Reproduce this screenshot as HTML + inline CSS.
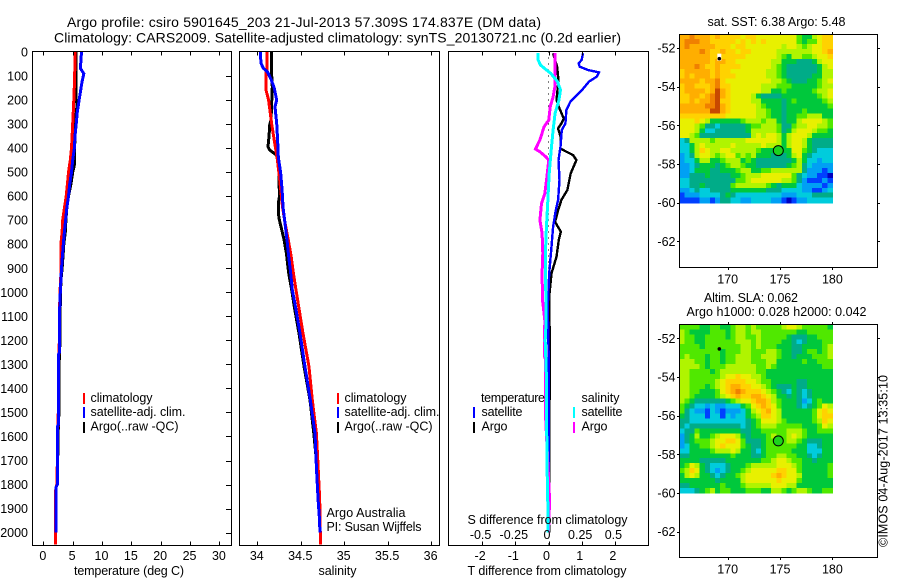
<!DOCTYPE html>
<html>
<head>
<meta charset="utf-8">
<title>Argo profile chart</title>
<style>
html,body{margin:0;padding:0;background:#fff;}
svg{display:block;}
text{font-family:"Liberation Sans",sans-serif;font-size:12.5px;fill:#000;}
.t{font-size:14px;}
</style>
</head>
<body>
<svg id="chart" xmlns="http://www.w3.org/2000/svg" width="900" height="580" viewBox="0 0 900 580">
<rect x="0" y="0" width="900" height="580" fill="#fff"/>
<text class="t" x="67" y="27" textLength="474" lengthAdjust="spacing">Argo profile: csiro 5901645_203 21-Jul-2013 57.309S 174.837E (DM data)</text>
<text class="t" x="54" y="42.5" textLength="567" lengthAdjust="spacing">Climatology: CARS2009. Satellite-adjusted climatology: synTS_20130721.nc (0.2d earlier)</text>
<g id="temp-panel"></g>
<g id="sal-panel"></g>
<g id="diff-panel"></g>
<g id="sst-map"></g>
<g id="sla-map"></g>

<text x="74" y="575" textLength="110" lengthAdjust="spacing">temperature (deg C)</text>
<text x="318.5" y="575" textLength="38" lengthAdjust="spacing">salinity</text>
<text x="467.5" y="575" textLength="159" lengthAdjust="spacing">T difference from climatology</text>
<text x="467.5" y="524" textLength="160" lengthAdjust="spacing">S difference from climatology</text>

<g>
<rect x="83" y="393" width="2" height="11" fill="#ff0000"/>
<rect x="83" y="407" width="2" height="11" fill="#0000ff"/>
<rect x="83" y="422" width="2" height="11" fill="#000"/>
<text x="90.5" y="402" textLength="62" lengthAdjust="spacing">climatology</text>
<text x="90.5" y="416" textLength="95" lengthAdjust="spacing">satellite-adj. clim.</text>
<text x="90.5" y="430.5" textLength="88" lengthAdjust="spacing">Argo(..raw -QC)</text>
</g>
<g>
<rect x="337" y="393" width="2" height="11" fill="#ff0000"/>
<rect x="337" y="407" width="2" height="11" fill="#0000ff"/>
<rect x="337" y="422" width="2" height="11" fill="#000"/>
<text x="344.5" y="402" textLength="62" lengthAdjust="spacing">climatology</text>
<text x="344.5" y="416" textLength="95" lengthAdjust="spacing">satellite-adj. clim.</text>
<text x="344.5" y="430.5" textLength="88" lengthAdjust="spacing">Argo(..raw -QC)</text>
<text x="326.5" y="517" textLength="79" lengthAdjust="spacing">Argo Australia</text>
<text x="326.5" y="531" textLength="95" lengthAdjust="spacing">PI: Susan Wijffels</text>
</g>
<g>
<text x="481" y="402" textLength="64" lengthAdjust="spacing">temperature</text>
<text x="481.5" y="416" textLength="41" lengthAdjust="spacing">satellite</text>
<text x="481.5" y="430.5" textLength="26" lengthAdjust="spacing">Argo</text>
<rect x="473" y="407" width="2" height="11" fill="#0000ff"/>
<rect x="473" y="422" width="2" height="11" fill="#000"/>
<text x="581.5" y="402" textLength="38" lengthAdjust="spacing">salinity</text>
<text x="581.5" y="416" textLength="41" lengthAdjust="spacing">satellite</text>
<text x="581.5" y="430.5" textLength="26" lengthAdjust="spacing">Argo</text>
<rect x="573" y="407" width="2" height="11" fill="#00ffff"/>
<rect x="573" y="422" width="2" height="11" fill="#ff00ff"/>
</g>

<text x="707.5" y="26" textLength="138" lengthAdjust="spacing">sat. SST: 6.38 Argo: 5.48</text>
<text x="704" y="302" textLength="94" lengthAdjust="spacing">Altim. SLA: 0.062</text>
<text x="686.5" y="316" textLength="180" lengthAdjust="spacing">Argo h1000: 0.028 h2000: 0.042</text>
<text transform="translate(887.5,547) rotate(-90)" x="0" y="0" textLength="172" lengthAdjust="spacing">©IMOS 04-Aug-2017 13:35:10</text>
</svg>

<script>
// ---- Profile data ----
const tempClimDepth = [0,100,200,300,400,450,500,550,600,650,700,750,800,900,1000,1100,1200,1300,1400,1500,1600,1700,1800,1830,1900,2000,2050];
const tempClim = [5.4,5.35,5.2,5.0,4.8,4.6,4.3,4.1,3.9,3.6,3.3,3.2,3.0,3.05,2.85,2.75,2.75,2.55,2.55,2.55,2.4,2.4,2.3,2.05,2.05,2.05,2.05];
const tempSatDepth = [0,50,70,90,125,200,250,300,350,400,450,500,550,600,650,700,750,800,900,1000,1100,1250,1260,1550,1560,1800,1810,2000];
const tempSat = [6.5,6.37,6.37,6.9,6.6,6.1,5.8,5.6,5.4,5.3,5.0,4.8,4.5,4.3,4.0,3.8,3.6,3.4,3.1,2.9,2.75,2.75,2.55,2.55,2.4,2.4,2.2,2.2];
const tempArgoDepth = [0,100,200,220,300,400,450,470,500,550,600,650,700,750,800,850,900,950,1000,1100,1200,1300,1400,1500,1600,1700,1730];
const tempArgo = [5.57,5.57,5.6,5.75,5.4,5.35,5.3,5.3,5.0,4.7,4.3,4.0,3.85,3.75,3.5,3.35,3.2,3.0,2.95,2.85,2.85,2.7,2.65,2.65,2.5,2.45,2.45];

const salClimDepth = [0,75,80,158,200,255,297,366,436,505,644,713,782,852,921,990,1060,1171,1310,1448,1587,1726,1864,2003,2050];
const salClim = [34.11,34.11,34.10,34.10,34.13,34.15,34.165,34.195,34.227,34.25,34.29,34.32,34.357,34.39,34.415,34.445,34.476,34.526,34.595,34.633,34.68,34.70,34.718,34.725,34.73];
const salSatDepth = [0,47,68,82,117,151,200,228,297,366,436,505,574,644,713,782,852,921,990,1060,1171,1310,1448,1587,1726,1864,1934,2000];
const salSat = [34.035,34.043,34.07,34.116,34.162,34.196,34.223,34.204,34.223,34.234,34.242,34.269,34.285,34.296,34.319,34.342,34.361,34.384,34.403,34.44,34.491,34.549,34.61,34.664,34.68,34.70,34.714,34.722];
const salArgoDepth = [0,89,145,283,304,352,394,408,429,450,505,602,630,671,699,727,782,838,921,990,1060,1171,1310,1448,1587,1726,1864,2000];
const salArgo = [34.165,34.165,34.173,34.158,34.143,34.135,34.123,34.143,34.22,34.239,34.25,34.254,34.242,34.242,34.254,34.273,34.308,34.335,34.361,34.396,34.426,34.48,34.538,34.607,34.65,34.687,34.714,34.722];

const diffArgoTDepth = [5,61,117,200,228,277,297,318,352,401,408,429,450,505,574,616,658,707,748,782,852,921,1005,1116,1250,1500,2000];
const diffArgoT = [.14,.26,.30,.24,.31,.46,.39,.29,.36,.36,.44,.74,.84,.67,.57,.39,.29,.20,.37,.31,.24,.09,.03,.03,.04,.03,.02];
const diffSatTDepth = [5,33,47,61,75,85,103,123,158,207,241,297,325,394,450,533,616,658,727,810,921,1060,1300,2000];
const diffSatT = [1.04,1.0,.91,.94,1.19,1.52,1.45,1.22,1.01,.66,.54,.51,.40,.36,.30,.33,.29,.22,.14,.09,.02,-.02,.01,.01];
const diffSatSDepth = [5,33,54,75,89,123,158,200,255,325,394,505,644,782,921,1116,1200,1350,1700,1850,2000];
const diffSatS = [-.078,-.078,-.06,-.015,.0175,.068,.09,.078,.05,.035,.0225,.005,-.0075,-.02,-.0225,-.0175,-.025,-.016,-.012,-.006,-.003];
const diffArgoSDepth = [5,145,187,228,283,311,366,404,415,436,450,533,589,630,700,755,838,921,1032,1116,1268,1280,1520,1864,2000];
const diffArgoS = [.048,.048,.035,.0125,.0025,-.033,-.065,-.098,-.065,-.02,.0025,-.015,-.0275,-.053,-.065,-.048,-.043,-.048,-.045,-.0275,-.03,-.022,-.022,.008,0];

// ---- Tick labels ----
const depthTicks = [0,100,200,300,400,500,600,700,800,900,1000,1100,1200,1300,1400,1500,1600,1700,1800,1900,2000];
const tempTicks = [0,5,10,15,20,25,30];
const salTicks = [34,34.5,35,35.5,36];
const salTickLabels = ['34','34.5','35','35.5','36'];
const diffTTicks = [-2,-1,0,1,2];
const diffTTickLabels = ['-2','-1','0','1','2'];
const diffSTicks = [-0.5,-0.25,0,0.25,0.5];
const diffSTickLabels = ['-0.5','-0.25','0','0.25','0.5'];
const lonTicks = [170,175,180];
const latTicks = [-52,-54,-56,-58,-60,-62];

// ---- Map colour scale (level 0..12) ----
const levelColors = ['#0000c0','#0040ff','#00a0f4','#00ccdc','#00ac88','#00c83c','#50e800','#b0f400','#e8f000','#ffd200','#ffae00','#f08000','#c84800'];

// ---- Float track / profile position ----
const profileLon = 174.837;
const profileLat = -57.309;
const priorLon = 169.2;
const priorLat = -52.55;

// ---- Map values, north to south, west to east ----
const sstGrid = [
[10,10,11,10,10,10,9,10,9,9,9,9,8,9,9,8,8,8,8,8,8,8,8,6,5,5,7,8,9,9],
[10,11,11,11,10,10,9,9,9,9,9,8,9,8,9,8,9,8,8,8,8,8,8,6,5,6,6,8,9,9],
[10,11,10,10,10,10,10,9,9,9,8,9,9,8,8,8,8,8,8,8,7,8,8,7,6,7,8,8,9,9],
[10,10,10,10,11,10,9,9,10,9,9,8,9,9,8,8,8,8,8,7,7,7,7,7,7,7,8,8,9,10],
[10,10,10,10,10,10,9,9,9,9,9,9,9,8,8,8,8,8,8,7,6,5,7,7,6,6,7,8,8,9],
[10,10,10,10,10,10,9,10,10,9,9,8,8,8,8,8,8,8,7,7,5,5,5,4,4,4,5,7,8,8],
[10,10,10,11,10,9,9,10,9,9,9,9,8,8,8,8,8,8,7,6,5,4,4,4,4,4,4,5,7,8],
[9,10,10,10,10,10,9,10,9,9,8,8,8,8,8,8,8,7,7,6,5,4,4,4,4,4,4,5,7,7],
[9,10,9,10,10,10,9,10,9,9,9,8,8,8,8,8,8,7,7,6,5,4,4,4,4,4,5,5,7,7],
[10,10,10,10,9,10,10,11,9,8,8,8,8,8,8,8,8,8,7,7,6,5,4,4,4,5,5,6,7,8],
[9,10,10,9,9,9,10,11,9,9,8,8,8,8,8,8,7,7,7,6,6,6,5,5,5,5,5,6,7,7],
[9,10,10,10,10,9,10,12,10,9,8,8,8,8,8,8,7,7,5,5,6,5,5,5,5,5,6,7,7,8],
[9,9,10,10,9,10,11,12,10,9,8,8,8,8,7,5,4,4,4,4,5,5,5,5,5,5,5,6,7,8],
[9,9,10,9,10,10,11,12,9,9,8,8,8,8,7,7,5,5,5,5,4,5,6,5,5,5,5,5,6,7],
[10,10,10,10,10,11,11,12,10,9,8,8,8,8,8,7,6,5,5,5,4,5,5,5,5,5,5,5,5,6],
[10,10,10,10,10,10,12,12,10,9,8,8,8,8,8,7,7,6,5,5,4,5,5,5,6,5,5,5,5,5],
[9,9,9,9,9,9,9,9,9,8,8,8,8,8,8,7,7,6,5,5,4,5,5,6,6,7,7,7,5,5],
[8,8,8,9,8,7,5,5,5,5,5,5,6,7,7,7,6,7,7,5,4,5,5,7,8,8,8,8,7,6],
[8,8,8,7,6,4,4,3,4,4,4,4,4,5,6,6,7,7,7,6,4,4,6,7,7,8,8,7,7,6],
[8,8,8,7,5,3,3,4,4,4,4,4,4,5,7,7,7,7,7,6,4,5,7,8,8,8,7,6,6,5],
[8,8,7,6,4,4,4,4,4,4,4,4,4,4,7,8,7,8,8,7,5,7,8,8,8,7,5,5,5,5],
[3,4,7,7,7,7,6,7,7,7,7,7,7,8,8,8,8,8,8,7,5,7,8,8,7,5,4,4,4,4],
[3,3,5,7,8,7,7,7,7,7,8,7,7,7,7,7,8,7,7,7,5,7,8,8,7,5,4,4,4,4],
[3,3,5,7,9,8,7,7,8,8,7,7,7,7,7,6,5,5,5,6,5,5,8,8,6,5,4,3,3,3],
[2,3,4,7,8,8,7,6,7,8,8,6,7,6,7,5,5,5,4,4,4,5,7,8,5,4,3,3,3,3],
[2,3,3,5,7,7,5,5,6,7,7,7,5,6,5,4,4,4,4,4,4,4,5,7,5,3,3,2,3,3],
[2,2,3,4,5,5,5,4,5,6,7,7,6,5,5,4,4,4,4,4,4,5,6,7,4,3,2,2,2,2],
[2,2,3,5,5,5,4,4,5,5,5,6,7,7,5,5,6,6,7,7,7,7,7,7,4,2,2,2,1,2],
[2,2,4,4,4,5,4,4,4,4,5,5,6,7,7,7,8,8,8,8,8,8,6,4,3,2,2,1,1,0],
[3,3,4,4,4,4,4,4,4,4,4,6,6,7,8,8,8,8,8,8,7,7,6,4,2,1,1,1,2,1],
[3,3,4,4,5,4,4,4,4,4,6,7,7,7,7,7,7,6,5,4,5,5,5,3,2,2,2,2,1,2],
[2,2,3,4,3,3,4,4,4,4,5,5,5,5,5,5,5,4,4,4,3,3,3,3,2,2,1,1,2,3],
[1,2,2,2,3,3,3,3,4,5,4,3,3,3,3,3,3,3,3,3,2,2,2,3,3,3,4,4,4,4],
[1,1,1,1,2,2,1,2,4,4,3,3,2,2,3,3,3,3,2,2,1,0,1,2,2,3,3,3,3,3]
];
const slaGrid = [
[6,6,6,6,5,5,6,6,5,5,6,7,7,6,7,6,6,6,6,6,7,8,8,7,6,6,6,6,6,5],
[7,6,5,5,5,5,6,6,6,5,6,7,7,6,7,7,6,6,6,6,6,6,6,5,5,6,6,6,6,6],
[7,6,6,5,5,6,6,6,6,5,6,7,7,6,6,7,6,6,6,6,6,5,4,4,4,5,5,6,6,6],
[7,6,6,5,5,6,6,6,6,6,6,7,7,7,6,7,6,6,6,6,5,5,4,3,4,5,5,5,6,6],
[6,6,6,6,5,6,6,6,6,6,6,6,7,7,6,7,6,6,6,5,5,5,4,4,5,5,5,5,6,7],
[6,6,6,6,6,6,6,6,5,6,6,6,7,7,6,6,6,7,7,6,5,5,4,4,5,6,6,5,6,7],
[6,7,6,6,6,5,6,6,5,6,6,7,7,7,6,6,7,7,7,6,5,5,4,5,5,5,6,6,6,7],
[7,7,7,6,6,5,6,6,5,6,6,7,7,7,6,6,6,7,7,5,5,5,5,5,6,5,5,6,6,6],
[7,7,7,7,6,5,6,6,6,7,7,7,7,7,7,6,6,7,6,5,5,5,5,5,5,5,5,5,6,6],
[7,7,6,6,6,6,5,6,7,7,7,7,7,7,7,6,6,5,5,5,5,5,5,5,5,5,5,5,5,5],
[7,7,6,6,6,6,6,6,7,8,8,9,8,8,7,7,6,5,5,5,5,5,5,5,5,5,5,5,5,5],
[7,7,6,6,6,6,6,7,8,9,9,9,9,8,8,7,6,6,5,5,5,5,5,4,4,5,5,5,5,5],
[7,7,6,6,6,5,6,7,8,9,10,10,9,9,8,8,7,6,5,4,4,4,5,4,4,5,5,5,5,5],
[7,7,6,6,5,5,5,6,8,9,10,11,10,9,9,9,8,7,6,5,4,3,5,4,3,4,5,5,5,5],
[7,7,6,5,5,5,5,6,7,8,9,10,9,9,10,10,9,8,7,5,5,4,5,4,3,4,5,5,5,5],
[7,6,5,4,4,4,4,4,4,5,6,7,8,8,9,10,10,9,7,6,5,5,5,4,2,3,5,6,5,5],
[6,5,4,3,3,2,3,2,2,3,3,3,5,6,8,9,10,9,8,6,5,5,5,4,3,4,5,6,8,7],
[6,4,3,2,2,1,3,2,1,2,2,2,3,5,7,8,9,10,8,7,5,5,5,5,5,5,6,8,9,8],
[5,4,3,3,3,1,3,3,1,3,2,3,3,5,6,7,9,9,8,7,5,5,5,5,5,5,6,8,9,9],
[4,4,3,3,3,3,3,3,3,3,3,3,3,4,5,6,8,8,8,7,6,5,5,5,5,5,6,7,9,8],
[4,3,4,4,4,4,4,4,4,4,4,4,3,4,5,6,7,7,7,6,6,6,6,6,5,5,5,6,8,7],
[3,4,4,6,5,5,5,5,5,5,5,5,4,4,5,5,6,6,6,6,6,7,7,7,6,5,5,6,6,6],
[2,4,5,7,5,5,6,7,8,8,8,7,5,4,5,5,5,6,7,6,6,7,8,7,6,5,5,5,5,5],
[2,4,5,6,6,6,7,8,8,9,9,8,6,4,4,4,5,6,6,6,6,7,7,6,5,4,4,4,5,5],
[2,3,5,5,6,6,7,8,9,8,8,8,6,5,4,4,5,6,6,6,6,6,6,5,5,3,3,4,5,5],
[3,3,5,5,5,5,6,7,7,7,8,7,5,5,4,3,5,6,6,6,6,6,5,5,5,3,3,3,5,5],
[4,4,5,5,5,5,5,5,5,5,6,5,5,5,4,4,5,6,6,7,7,6,6,5,5,4,3,4,5,5],
[5,5,5,5,4,4,4,4,4,5,5,5,5,5,5,5,6,6,7,8,8,7,6,6,5,5,4,5,5,5],
[5,6,8,7,5,4,3,3,3,4,5,5,5,6,7,7,7,7,7,8,8,8,7,6,5,5,5,5,5,6],
[6,7,9,8,5,4,3,2,3,4,5,5,6,7,8,8,8,8,8,9,9,8,8,6,5,5,5,5,5,6],
[5,7,8,7,5,5,4,3,4,5,5,6,7,8,8,8,8,8,9,10,9,8,8,7,5,5,5,5,5,6],
[5,5,5,5,5,5,5,4,5,5,5,5,7,8,8,8,8,8,8,9,8,8,8,6,5,5,5,5,5,5],
[4,4,5,5,5,5,5,5,6,5,5,5,6,7,7,7,7,7,8,8,8,7,7,5,5,5,5,5,5,5],
[3,3,3,4,5,6,7,5,6,6,5,5,5,6,6,6,5,5,7,7,6,5,6,7,7,6,5,5,6,6]
];

// ---- Axis functions ----
const PANEL_TOP = 51.5, PANEL_BOTTOM = 545.5;
function yDepth(d){ return 52 + d * 0.2403; }
function xTemp(t){ return 43.3 + t * 5.87; }
function xSal(s){ return 257.3 + (s - 34) * 86.9; }
function xDiffT(v){ return 548.5 + v * 33.2; }
function xDiffS(v){ return 548.5 + v * 132.8; }

const SVGNS = 'http://www.w3.org/2000/svg';
function make(parent, tag, name, attrs){
  const el = document.createElementNS(SVGNS, tag);
  
  
  for (const k in attrs) el.setAttribute(k, attrs[k]);
  parent.appendChild(el);
  return el;
}
function label(parent, name, x, y, str, anchor){
  const el = make(parent, 'text', name, {x: x, y: y, 'text-anchor': anchor});
  el.textContent = str;
  return el;
}
function tick(parent, name, x1, y1, x2, y2){
  return make(parent, 'line', name, {x1: x1, y1: y1, x2: x2, y2: y2, stroke: '#000', 'stroke-width': 1, 'shape-rendering': 'crispEdges'});
}
function frame(parent, name, x, y, w, h){
  return make(parent, 'rect', name, {x: x, y: y, width: w, height: h, fill: 'none', stroke: '#000', 'stroke-width': 1, 'shape-rendering': 'crispEdges'});
}
function profile(parent, name, depths, values, xFn, color, width){
  const pts = depths.map((d, i) => xFn(values[i]).toFixed(1) + ',' + yDepth(d).toFixed(1)).join(' ');
  return make(parent, 'polyline', name, {points: pts, fill: 'none', stroke: color, 'stroke-width': width, 'shape-rendering': 'crispEdges', 'stroke-linejoin': 'miter'});
}

// ---- Temperature panel ----
const tempG = document.getElementById('temp-panel');
profile(tempG, 'argo-temperature-line', tempArgoDepth, tempArgo, xTemp, '#000', 3);
profile(tempG, 'climatology-temperature-line', tempClimDepth, tempClim, xTemp, '#ff0000', 3);
profile(tempG, 'satellite-temperature-line', tempSatDepth, tempSat, xTemp, '#0000ff', 3);
frame(tempG, 'temperature-plot-frame', 32.5, PANEL_TOP, 199, PANEL_BOTTOM - PANEL_TOP);
depthTicks.forEach(d => {
  const y = Math.round(yDepth(d)) + 0.5;
  if (d > 0) tick(tempG, 'depth-tick-right', 231.5, y, 226, y);
  label(tempG, 'depth-tick-label', 28, yDepth(d) + 4.5, String(d), 'end');
});
tempTicks.forEach(t => {
  const x = Math.round(xTemp(t)) + 0.5;
  tick(tempG, 'temperature-tick-top', x, PANEL_TOP, x, PANEL_TOP + 4);
  tick(tempG, 'temperature-tick-bottom', x, PANEL_BOTTOM, x, PANEL_BOTTOM - 4);
  label(tempG, 'temperature-tick-label', xTemp(t) - 0.5, 560, String(t), 'middle');
});

// ---- Salinity panel ----
const salG = document.getElementById('sal-panel');
profile(salG, 'argo-salinity-line', salArgoDepth, salArgo, xSal, '#000', 3);
profile(salG, 'climatology-salinity-line', salClimDepth, salClim, xSal, '#ff0000', 3);
profile(salG, 'satellite-salinity-line', salSatDepth, salSat, xSal, '#0000ff', 3);
frame(salG, 'salinity-plot-frame', 239.5, PANEL_TOP, 200, PANEL_BOTTOM - PANEL_TOP);
salTicks.forEach((s, i) => {
  const x = Math.round(xSal(s)) + 0.5;
  tick(salG, 'salinity-tick-top', x, PANEL_TOP, x, PANEL_TOP + 4);
  tick(salG, 'salinity-tick-bottom', x, PANEL_BOTTOM, x, PANEL_BOTTOM - 4);
  label(salG, 'salinity-tick-label', xSal(s) - 0.5, 560, salTickLabels[i], 'middle');
});

// ---- Difference panel ----
const diffG = document.getElementById('diff-panel');
make(diffG, 'line', 'zero-difference-dotted-line', {x1: xDiffT(0), y1: PANEL_TOP, x2: xDiffT(0), y2: PANEL_BOTTOM, stroke: '#000', 'stroke-width': 1, 'stroke-dasharray': '1 5', 'shape-rendering': 'crispEdges'});
profile(diffG, 'argo-temperature-difference-line', diffArgoTDepth, diffArgoT, xDiffT, '#000', 2.4);
profile(diffG, 'satellite-temperature-difference-line', diffSatTDepth, diffSatT, xDiffT, '#0000ff', 2.4);
profile(diffG, 'argo-salinity-difference-line', diffArgoSDepth, diffArgoS, xDiffS, '#ff00ff', 3);
profile(diffG, 'satellite-salinity-difference-line', diffSatSDepth, diffSatS, xDiffS, '#00ffff', 3);
frame(diffG, 'difference-plot-frame', 448.5, PANEL_TOP, 200, PANEL_BOTTOM - PANEL_TOP);
diffTTicks.forEach((v, i) => {
  const x = Math.round(xDiffT(v)) + 0.5;
  tick(diffG, 'difference-tick-top', x, PANEL_TOP, x, PANEL_TOP + 4);
  tick(diffG, 'difference-tick-bottom', x, PANEL_BOTTOM, x, PANEL_BOTTOM - 4);
  label(diffG, 't-difference-tick-label', xDiffT(v) - 2, 560, diffTTickLabels[i], 'middle');
});
diffSTicks.forEach((v, i) => {
  label(diffG, 's-difference-tick-label', xDiffS(v) - 1.5, 539, diffSTickLabels[i], 'middle');
});

// ---- Maps ----
const LON0 = 165.38, LON_SPAN = 14.62, LAT0 = -51.28, LAT_SPAN = 8.72;
function xLon(lon){ return 727.7 + (lon - 170) * 10.47; }
function drawMap(group, prefix, grid, latZeroY, frameTop){
  function yLat(lat){ return latZeroY + (-52 - lat) * 19.33; }
  const rows = grid.length, cols = grid[0].length;
  grid.forEach((row, r) => {
    row.forEach((level, c) => {
      const x0 = xLon(LON0 + c * LON_SPAN / cols);
      const x1 = xLon(LON0 + (c + 1) * LON_SPAN / cols);
      const y0 = yLat(LAT0 - r * LAT_SPAN / rows);
      const y1 = yLat(LAT0 - (r + 1) * LAT_SPAN / rows);
      make(group, 'rect', prefix + '-cell', {x: x0.toFixed(1), y: y0.toFixed(1), width: (x1 - x0 + 0.6).toFixed(1), height: (y1 - y0 + 0.6).toFixed(1), fill: levelColors[level], 'shape-rendering': 'crispEdges'});
    });
  });
  frame(group, prefix + '-frame', 679.5, frameTop + 0.5, 198, 233);
  lonTicks.forEach(lon => {
    const x = Math.round(xLon(lon)) + 0.5;
    tick(group, prefix + '-lon-tick-top', x, frameTop + 0.5, x, frameTop - 2);
    tick(group, prefix + '-lon-tick-bottom', x, frameTop + 233.5, x, frameTop + 236);
    label(group, prefix + '-lon-label', xLon(lon), frameTop + 249.5, String(lon), 'middle');
  });
  latTicks.forEach(lat => {
    const y = Math.round(yLat(lat)) + 0.5;
    tick(group, prefix + '-lat-tick-left', 679.5, y, 677, y);
    tick(group, prefix + '-lat-tick-right', 877.5, y, 880, y);
    label(group, prefix + '-lat-label', 675.5, yLat(lat) + 4.5, String(lat), 'end');
  });
  make(group, 'circle', prefix + '-profile-marker', {cx: xLon(profileLon).toFixed(1), cy: yLat(profileLat).toFixed(1), r: 5, fill: '#1cd41c', stroke: '#000', 'stroke-width': 1});
  return yLat;
}
const sstG = document.getElementById('sst-map');
const sstY = drawMap(sstG, 'sst', sstGrid, 48, 34);
make(sstG, 'rect', 'sst-white-gap', {x: xLon(priorLon) - 2, y: sstY(priorLat) - 5, width: 4, height: 7, fill: '#fff'});
make(sstG, 'circle', 'sst-prior-position-dot', {cx: xLon(priorLon), cy: sstY(priorLat), r: 1.8, fill: '#000'});
const slaG = document.getElementById('sla-map');
const slaY = drawMap(slaG, 'sla', slaGrid, 338.3, 324);
make(slaG, 'circle', 'sla-prior-position-dot', {cx: xLon(priorLon), cy: slaY(priorLat), r: 1.8, fill: '#000'});
</script>
</body>
</html>
